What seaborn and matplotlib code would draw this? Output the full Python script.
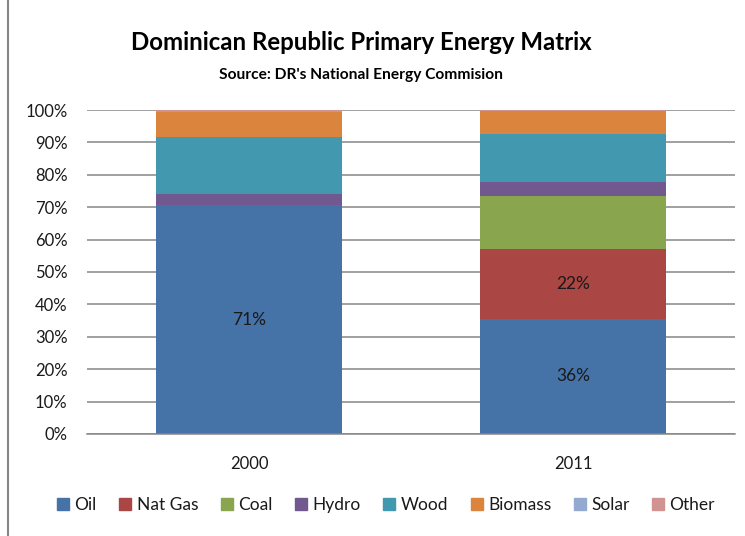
import matplotlib
matplotlib.use("Agg")
import matplotlib.pyplot as plt
from matplotlib.lines import Line2D
from matplotlib.patches import Patch
import seaborn as sns
import numpy as np
import pandas as pd

years = ["2000", "2011"]
sources = ["Oil", "Nat Gas", "Coal", "Hydro", "Wood", "Biomass", "Solar", "Other"]
oil = [70.6, 35.6]
nat_gas = [0.0, 21.6]
coal = [0.0, 16.4]
hydro = [3.5, 4.3]
wood = [17.6, 14.8]
biomass = [7.7, 6.9]
solar = [0.0, 0.1]
other = [0.6, 0.3]
series = [oil, nat_gas, coal, hydro, wood, biomass, solar, other]
colors = ["#4572A7", "#AA4643", "#89A54E", "#71588F", "#4198AF", "#DB843D", "#93A9CF", "#D19392"]
y_ticks = list(range(0, 101, 10))
title = "Dominican Republic Primary Energy Matrix"
subtitle = "Source: DR's National Energy Commision"

sns.set_theme(style="white")
plt.rcParams['font.family'] = ['Lato', 'DejaVu Sans']

fig = plt.figure(figsize=(7.45, 5.36), dpi=100)
ax = fig.add_axes([87/745, 102/536, 648/745, 324/536])

bottom = np.zeros(len(years))
for name, vals, col in zip(sources, series, colors):
    df = pd.DataFrame({"year": years, "value": vals})
    sns.barplot(data=df, x="year", y="value", color=col, bottom=bottom,
                width=0.573, ax=ax, saturation=1, linewidth=0, edgecolor=col)
    for i, v in enumerate(vals):
        if v > 20:
            ax.text(i, bottom[i] + v / 2, f"{round(v):d}%", ha="center", va="center",
                    fontsize=12.5, color="#1a1a1a")
    bottom = bottom + np.array(vals)

ax.set_xlim(-0.5, 1.5)
ax.set_ylim(0, 100)
ax.set_yticks(y_ticks)
ax.set_yticklabels([f"{t}%" for t in y_ticks])
ax.yaxis.grid(True, color="#868686", linewidth=1.1)
ax.set_axisbelow(True)
for s in ["left", "right", "top"]:
    ax.spines[s].set_visible(False)
ax.spines["bottom"].set_color("#868686")
ax.spines["bottom"].set_linewidth(1.1)
ax.tick_params(axis="y", length=0, pad=14, labelsize=12, labelcolor="#1a1a1a")
ax.tick_params(axis="x", length=0, pad=16, labelsize=12, labelcolor="#1a1a1a")
ax.set_xlabel("")
ax.set_ylabel("")

fig.text(0.485, 1 - 43/536, title, ha="center", va="center", fontsize=17.3, fontweight="bold", color="#000000")
fig.text(0.485, 1 - 75/536, subtitle, ha="center", va="center", fontsize=11.2, fontweight="bold", color="#000000")

handles = [Patch(facecolor=c, edgecolor=c, label=n) for n, c in zip(sources, colors)]
fig.legend(handles=handles, loc="center", bbox_to_anchor=(386/745, 1 - 505/536), ncol=8,
           frameon=False, fontsize=12.5, handlelength=0.7, handleheight=0.7,
           handletextpad=0.3, columnspacing=1.3, labelcolor="#1a1a1a")

fig.add_artist(Line2D([8/745, 8/745], [0, 1], color="#868686", linewidth=1.5))

fig.savefig("out.png", dpi=100)
